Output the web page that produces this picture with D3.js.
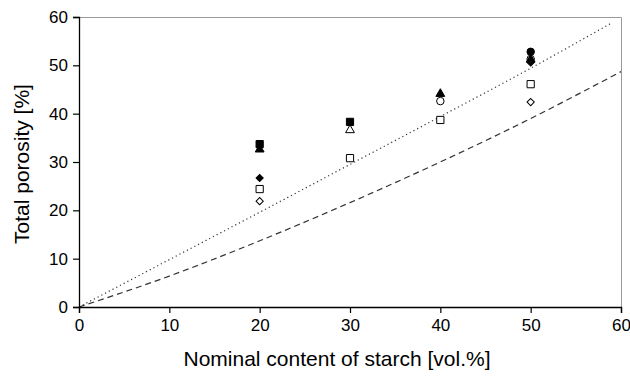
<!DOCTYPE html>
<html>
<head>
<meta charset="utf-8">
<script src="https://cdn.jsdelivr.net/npm/d3@7"></script>
<style>
  body { margin: 0; background: #fff; }
  svg text { font-family: "Liberation Sans", Arial, sans-serif; fill: #000; }
</style>
</head>
<body>
<svg id="chart" width="630" height="380"></svg>
<script>
// Measured points, one array per symbol: [starch vol.%, porosity %]
const filledCircle = [[50, 52.8]];
const filledSquare = [[20, 33.7], [30, 38.3]];
const filledTriangle = [[20, 32.6], [40, 44.1], [50, 51.2]];
const openTriangle = [[30, 36.6]];
const openCircle = [[40, 42.6], [50, 51.3]];
const filledDiamond = [[20, 26.7], [50, 50.6]];
const openSquare = [[20, 24.4], [30, 30.8], [40, 38.7], [50, 46.1]];
const openDiamond = [[20, 21.9], [50, 42.4]];

// Model curves
const dottedCurve = [[0, 0], [10, 9.8], [20, 19.6], [30, 29.5], [40, 39.4], [50, 49.4], [58.8, 58.6]];
const dashedCurve = [[0, 0], [10, 6.4], [20, 13.7], [30, 21.6], [40, 30.0], [50, 39.0], [60, 48.7]];

const xTicks = [0, 10, 20, 30, 40, 50, 60];
const yTicks = [0, 10, 20, 30, 40, 50, 60];

const svg = d3.select('#chart');
const plotLeft = 79, plotRight = 621, plotTop = 17, plotBottom = 307;

const x = d3.scaleLinear().domain([0, 60]).range([plotLeft, plotRight]);
const y = d3.scaleLinear().domain([0, 60]).range([plotBottom, plotTop]);

// grey frame on top and right
svg.append('path')
    .attr('d', `M${plotLeft},${plotTop + 0.5}H${plotRight + 0.5}V${plotBottom}`)
    .attr('fill', 'none')
    .attr('stroke', '#999')
    .attr('stroke-width', 1);

// curves
const line = d3.line().x(d => x(d[0])).y(d => y(d[1])).curve(d3.curveMonotoneX);
svg.append('path').datum(dottedCurve)
    .attr('d', line).attr('fill', 'none')
    .attr('stroke', '#333').attr('stroke-width', 1.2)
    .attr('stroke-dasharray', '1.2,3');
svg.append('path').datum(dashedCurve)
    .attr('d', line).attr('fill', 'none')
    .attr('stroke', '#333').attr('stroke-width', 1.2)
    .attr('stroke-dasharray', '6,4');

// axes
const xAxis = svg.append('g')
    .attr('transform', `translate(0,${plotBottom})`)
    .call(d3.axisBottom(x).tickValues(xTicks).tickSizeOuter(0).tickSize(6).tickPadding(6));
const yAxis = svg.append('g')
    .attr('transform', `translate(${plotLeft},0)`)
    .call(d3.axisLeft(y).tickValues(yTicks).tickSizeOuter(0).tickSize(6).tickPadding(5));
[xAxis, yAxis].forEach(g => {
    g.select('.domain').attr('stroke', '#000').attr('stroke-width', 1.3);
    g.selectAll('.tick line').attr('stroke', '#000').attr('stroke-width', 1.2);
    g.selectAll('.tick text').style('font-size', '17px')
        .style('font-family', '"Liberation Sans", Arial, sans-serif');
});

// axis titles
svg.append('text')
    .attr('x', 337).attr('y', 366)
    .attr('text-anchor', 'middle')
    .style('font-size', '21px')
    .text('Nominal content of starch [vol.%]');
svg.append('text')
    .attr('transform', `translate(29,164) rotate(-90)`)
    .attr('text-anchor', 'middle')
    .style('font-size', '21px')
    .text('Total porosity [%]');

// markers
function drawSeries(data, type, filled) {
    const isDiamond = type === 'diamond';
    const sizes = { diamond: 26, triangle: 34, square: 52, circle: 44 };
    const shapes = { diamond: d3.symbolSquare, triangle: d3.symbolTriangle,
                     square: d3.symbolSquare, circle: d3.symbolCircle };
    const sym = d3.symbol().type(shapes[type]).size(sizes[type]);
    svg.append('g').selectAll('path')
        .data(data)
        .enter()
        .append('path')
        .attr('d', sym)
        .attr('transform', d => `translate(${x(d[0])},${y(d[1])})` + (isDiamond ? ' rotate(45)' : ''))
        .attr('fill', filled ? '#000' : '#fff')
        .attr('stroke', '#000')
        .attr('stroke-width', 1);
}
drawSeries(openDiamond, 'diamond', false);
drawSeries(openSquare, 'square', false);
drawSeries(filledDiamond, 'diamond', true);
drawSeries(openCircle, 'circle', false);
drawSeries(openTriangle, 'triangle', false);
drawSeries(filledTriangle, 'triangle', true);
drawSeries(filledSquare, 'square', true);
drawSeries(filledCircle, 'circle', true);
</script>
</body>
</html>
